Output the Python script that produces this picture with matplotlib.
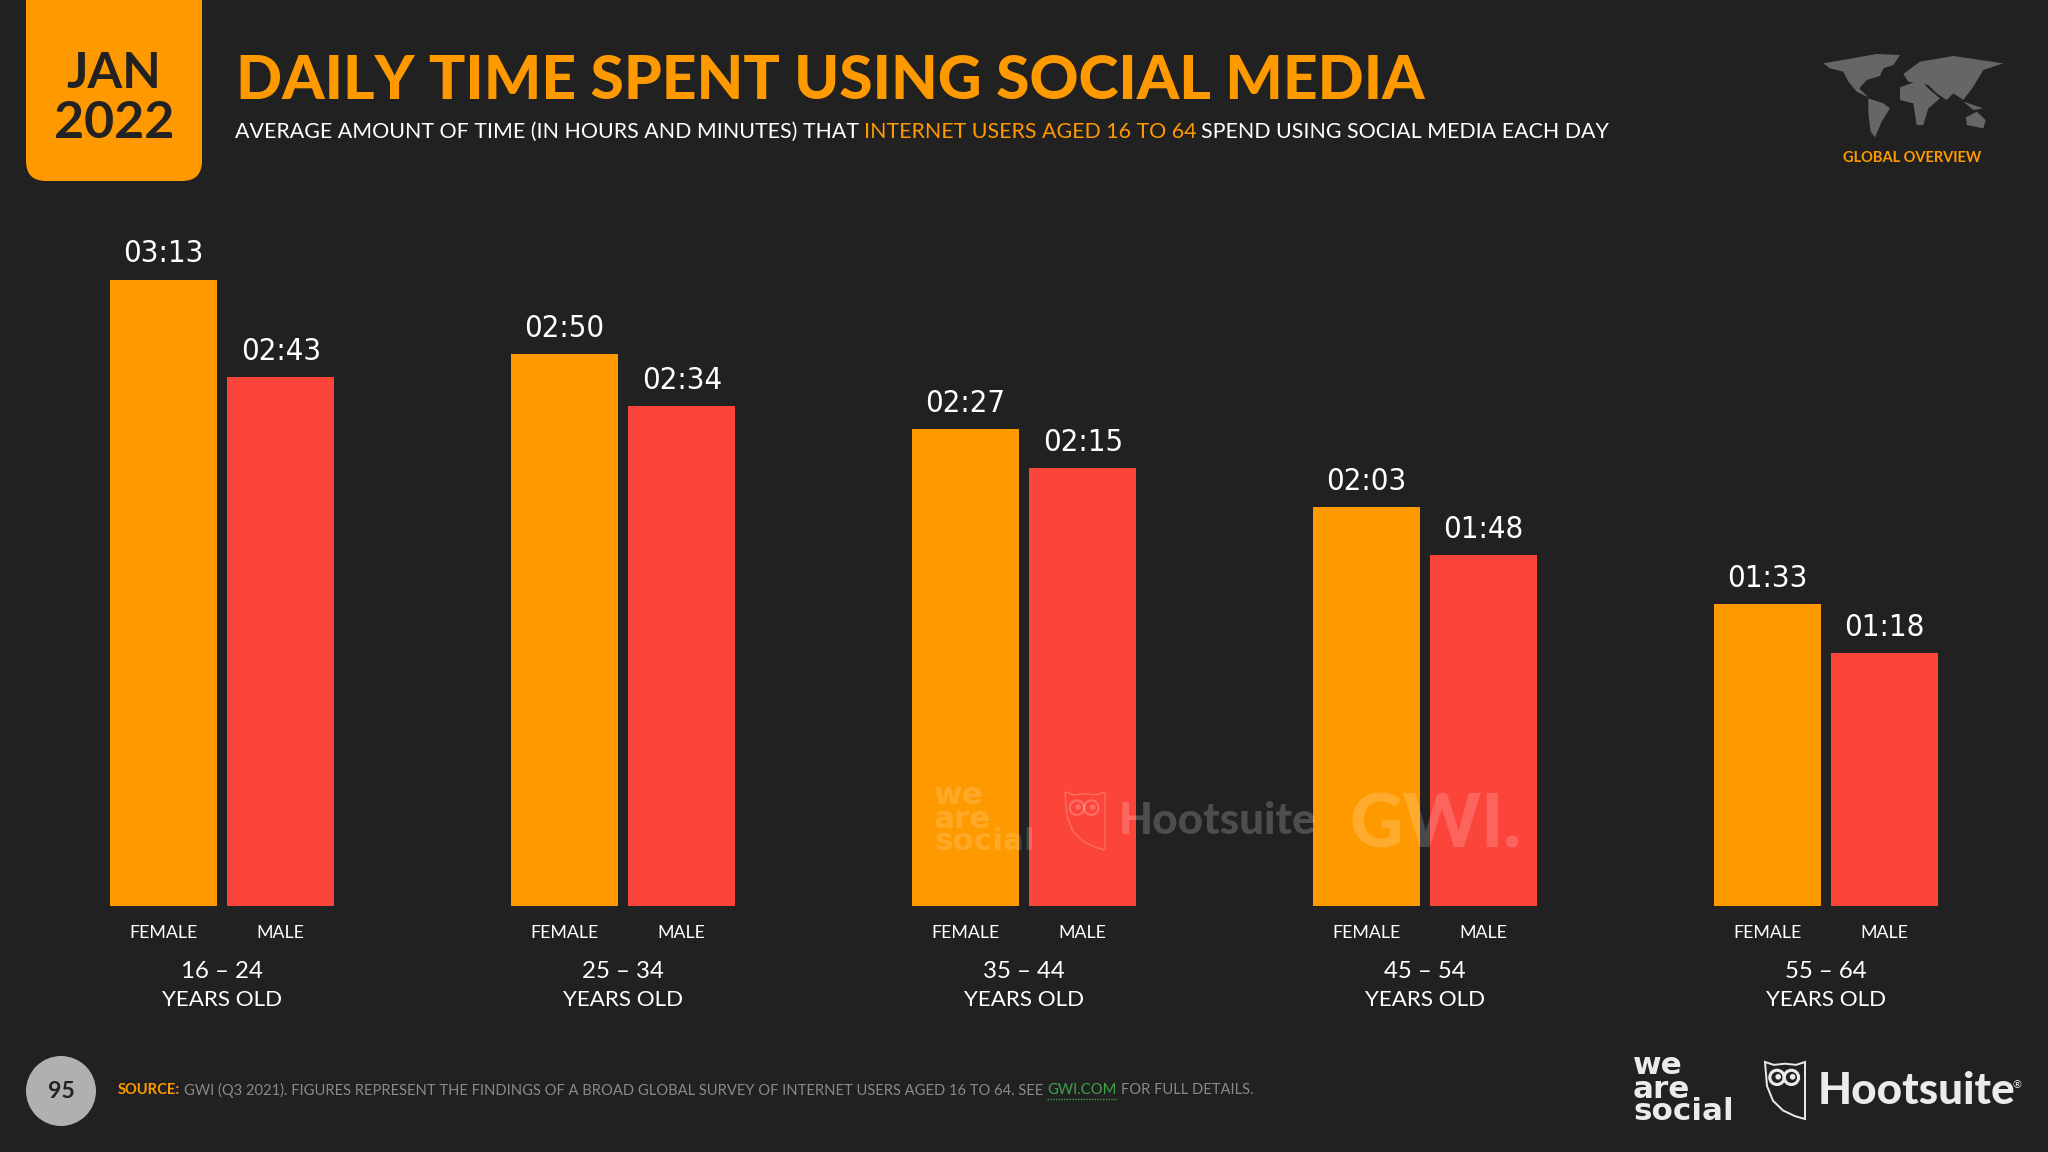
import matplotlib
matplotlib.use("Agg")
import matplotlib.pyplot as plt
from matplotlib import font_manager
from matplotlib.font_manager import FontProperties
from matplotlib.patches import Polygon, Circle, FancyBboxPatch, Ellipse

W, H = 2048, 1152

age_groups = ["16 – 24", "25 – 34", "35 – 44", "45 – 54", "55 – 64"]
female_times = ["03:13", "02:50", "02:27", "02:03", "01:33"]
male_times = ["02:43", "02:34", "02:15", "01:48", "01:18"]

BG = "#212122"
ORANGE = "#FF9900"
RED = "#FB443A"
GREY = "#8a8a8a"
SANS = "Lato"

# look for any condensed face for the value labels, Roboto otherwise
narrow_file = None
for f in font_manager.fontManager.ttflist:
    low = f.fname.lower()
    if ("condensed" in low or "narrow" in low) and "bold" not in low and "italic" not in low and "oblique" not in low:
        narrow_file = f.fname
        break


def to_minutes(t):
    h, m = t.split(":")
    return int(h) * 60 + int(m)


def px(size):
    # font size given in pixels of the 100 dpi figure
    return size * 0.72


def value_font():
    if narrow_file:
        return FontProperties(fname=narrow_file, size=px(31))
    return FontProperties(family="Roboto", size=px(29))


def run_text(ax, x, y, parts, size, **kw):
    # several coloured pieces on one line
    r = ax.figure.canvas.get_renderer()
    for s, c in parts:
        t = ax.text(x, y, s, color=c, fontsize=px(size), va="center", ha="left", **kw)
        x = t.get_window_extent(r).x1 + size * 0.22


def owl(ax, x0, y0, w, h, color, lw, alpha=1.0):
    body = [(0, 0), (0.22, 0.05), (0.5, 0.03), (0.78, 0.05), (1, 0), (1, 1), (0.75, 0.95),
            (0.45, 0.85), (0.2, 0.68), (0.05, 0.42)]
    pts = [(x0 + a * w, y0 + b * h) for a, b in body]
    ax.add_patch(Polygon(pts, closed=True, fill=False, ec=color, lw=lw, alpha=alpha))
    for cx in (0.3, 0.66):
        ax.add_patch(Ellipse((x0 + cx * w, y0 + 0.27 * h), 0.36 * w, 0.25 * h, fill=False,
                             ec=color, lw=lw * 1.6, alpha=alpha))
        ax.add_patch(Circle((x0 + (cx + 0.03) * w, y0 + 0.26 * h), 0.07 * w, fc=color, alpha=alpha))


def logo_text(ax, x, ys, size, color, alpha=1.0):
    for s, y in zip(["we", "are", "social"], ys):
        ax.text(x, y, s, color=color, alpha=alpha, fontsize=px(size), family="DejaVu Sans",
                weight="bold", va="center", ha="left")


fig = plt.figure(figsize=(W / 100, H / 100), dpi=100, facecolor=BG)
fig.canvas.get_renderer()

# bars: one axes whose x unit is one age group and y unit is minutes
female = [to_minutes(t) for t in female_times]
male = [to_minutes(t) for t in male_times]
ax = fig.add_axes([0, (H - 906) / H, 1, 706 / H], facecolor="none", zorder=1)
ax.set_xlim(-222 / 401, (W - 222) / 401)
ax.set_ylim(0, 706 / 3.246)
pos = list(range(len(age_groups)))
off = 0.1465
bw = 0.267
ax.bar([p - off for p in pos], female, bw, color=ORANGE)
ax.bar([p + off for p in pos], male, bw, color=RED)
for s in ax.spines.values():
    s.set_visible(False)
ax.set_yticks([])
ax.set_xticks([p - off for p in pos] + [p + off for p in pos])
ax.set_xticklabels(["FEMALE"] * 5 + ["MALE"] * 5, color="white", fontsize=px(17.8), family=SANS)
ax.tick_params(axis="x", length=0, pad=14)
for p, f, m, ft, mt in zip(pos, female, male, female_times, male_times):
    for xx, v, t in ((p - off, f, ft), (p + off, m, mt)):
        ax.annotate(t, (xx, v), xytext=(0, 18.5), textcoords="offset points", ha="center", va="center",
                    color="white", fontproperties=value_font())
    ax.annotate(age_groups[p], (p, 0), xytext=(0, -47), textcoords="offset points", ha="center", va="center",
                color="white", fontsize=px(24), family=SANS)
    ax.annotate("YEARS OLD", (p, 0), xytext=(0, -67.5), textcoords="offset points", ha="center", va="center",
                color="white", fontsize=px(22.4), family=SANS)

# everything else in pixel coordinates of the slide
ov = fig.add_axes([0, 0, 1, 1], facecolor="none", zorder=2)
ov.set_xlim(0, W)
ov.set_ylim(H, 0)
ov.axis("off")

ov.add_patch(FancyBboxPatch((26, -40), 176, 221, boxstyle="round,pad=0,rounding_size=20", fc=ORANGE, ec="none"))
ov.text(114, 74, "JAN", color="#222222", fontsize=px(50), weight="bold", family=SANS, ha="center", va="center")
ov.text(114, 124, "2022", color="#222222", fontsize=px(52), weight="bold", family=SANS, ha="center", va="center")

ov.text(236, 81, "DAILY TIME SPENT USING SOCIAL MEDIA", color=ORANGE, fontsize=px(60.5), weight="black",
        family=SANS, ha="left", va="center")
run_text(ov, 235, 132, [("AVERAGE AMOUNT OF TIME (IN HOURS AND MINUTES) THAT", "white"),
                        ("INTERNET USERS AGED 16 TO 64", ORANGE),
                        ("SPEND USING SOCIAL MEDIA EACH DAY", "white")], 21.35, family=SANS)

# world map, rough outlines
land = [
    [(670, 190), (740, 178), (830, 162), (900, 165), (880, 195), (850, 205), (840, 228), (800, 240), (778, 265),
     (805, 292), (770, 275), (745, 245), (730, 215), (690, 205)],
    [(805, 295), (850, 310), (870, 325), (845, 365), (825, 412), (812, 395), (805, 340)],
    [(900, 262), (960, 240), (990, 270), (1020, 295), (985, 325), (970, 375), (950, 375), (940, 310), (900, 300)],
    [(910, 222), (960, 185), (1060, 168), (1210, 190), (1150, 210), (1120, 260), (1090, 300), (1060, 280),
     (1040, 300), (1010, 280), (985, 255), (925, 245)],
    [(1098, 352), (1130, 335), (1157, 360), (1150, 385), (1100, 375)],
    [(1090, 305), (1150, 325), (1120, 330)],
]
for poly in land:
    ov.add_patch(Polygon([(1600 + a / 3, b / 3) for a, b in poly], closed=True, fc="#666666", ec="none"))
ov.text(1912, 158, "GLOBAL OVERVIEW", color=ORANGE, fontsize=px(14.6), weight="bold", family=SANS, ha="center", va="center")

# footer
ov.add_patch(Circle((61, 1091), 35, fc="#b0b0b0", ec="none"))
ov.text(61, 1091, "95", color="#222222", fontsize=px(23), weight="bold", family=SANS, ha="center", va="center")
r = fig.canvas.get_renderer()
FOOT = 14.75
t = ov.text(118, 1090, "SOURCE:", color=ORANGE, fontsize=px(FOOT), weight="bold", family=SANS, va="center")
x1 = t.get_window_extent(r).x1 + 4
t = ov.text(x1, 1090, "GWI (Q3 2021). FIGURES REPRESENT THE FINDINGS OF A BROAD GLOBAL SURVEY OF INTERNET USERS AGED 16 TO 64. SEE",
            color=GREY, fontsize=px(FOOT), family=SANS, va="center")
x1 = t.get_window_extent(r).x1 + 4
t = ov.text(x1, 1090, "GWI.COM", color="#3fa14a", fontsize=px(FOOT), family=SANS, va="center")
e = t.get_window_extent(r)
ov.plot([e.x0, e.x1], [1099, 1099], color="#3fa14a", lw=1, ls=(0, (1, 1)))
ov.text(e.x1 + 4, 1090, "FOR FULL DETAILS.", color=GREY, fontsize=px(FOOT), family=SANS, va="center")

LOGO = "#ebebeb"
logo_text(ov, 1633, [1065, 1089, 1112], 31, LOGO)
owl(ov, 1765, 1062, 40, 57, LOGO, 1.4)
ov.text(1818, 1091, "Hootsuite", color=LOGO, fontsize=px(44), weight="black", family=SANS, va="center")
ov.text(2017, 1085, "®", color=LOGO, fontsize=px(11), family="DejaVu Sans", ha="center", va="center")

# faint watermark across the chart
WM = "white"
logo_text(ov, 934, [795, 819, 842], 31, WM, alpha=0.16)
owl(ov, 1065, 792, 40, 58, WM, 1.0, alpha=0.22)
ov.text(1119, 821, "Hootsuite", color=WM, alpha=0.2, fontsize=px(44), weight="black", family=SANS, va="center")
ov.text(1350, 826, "GWI.", color=WM, alpha=0.18, fontsize=px(74), weight="black", family=SANS, va="center")

fig.savefig("out.png", dpi=100, facecolor=BG)
